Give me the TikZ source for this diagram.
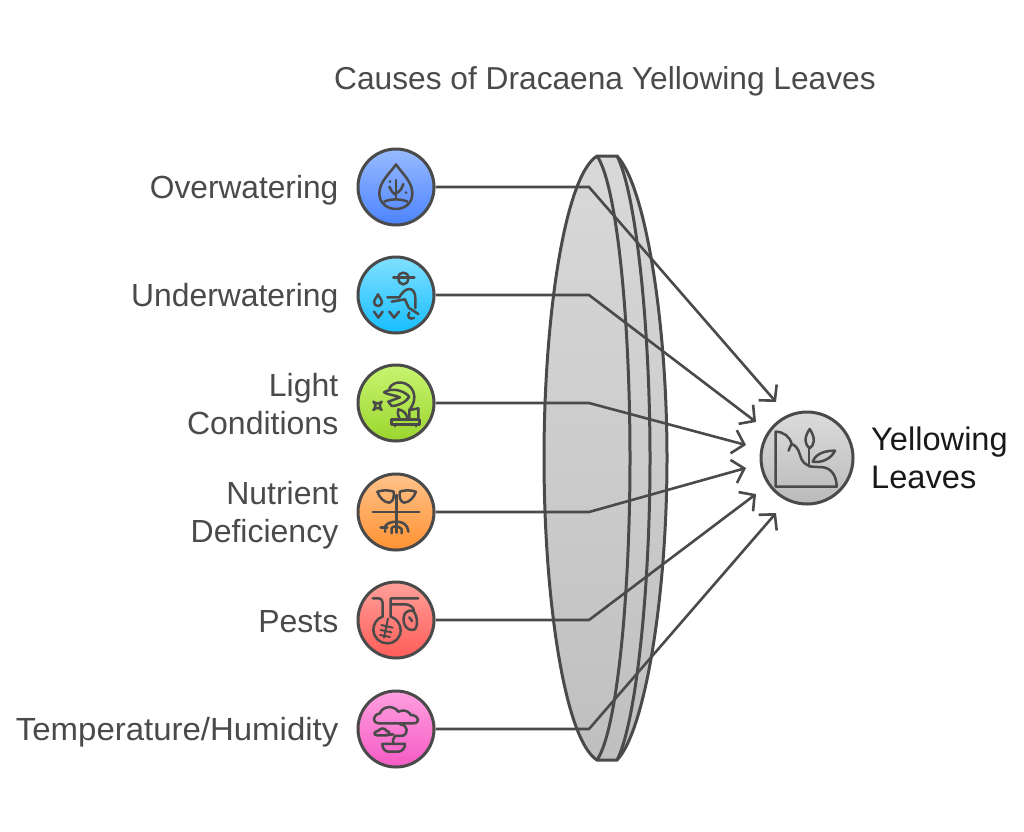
\documentclass[tikz,border=0pt]{standalone}
\usepackage{fontspec}
\setmainfont{Liberation Sans}
\usetikzlibrary{arrows.meta}
\definecolor{ink}{HTML}{4A4A4A}
\tikzset{
  x=1pt,y=-1pt,
  disc/.style={circle,draw=ink,line width=3pt,minimum size=76pt,inner sep=0pt,shading=axis,shading angle=0},
  lab/.style={anchor=east,align=right,inner sep=0pt,text=ink,font=\fontsize{32}{38}\selectfont},
  link/.style={draw=ink,line width=2.6pt,-{Straight Barb[length=11pt,width=24pt,line width=2.6pt]}},
  lensline/.style={draw=ink,line width=3pt},
  icon/.style={draw=ink,line width=2.5pt,line cap=round,line join=round,x=0.3333pt,y=-0.3333pt},
}
\begin{document}
\begin{tikzpicture}
\useasboundingbox (0,0) rectangle (1024,831);
% title
\node[text=ink,font=\fontsize{31.7}{36}\selectfont] (title) at (605,81) {Causes of Dracaena Yellowing Leaves};
% lens
\path[top color=black!15,bottom color=black!25] (597,156) -- (617,156)
  .. controls (645,185) and (667,320) .. (667,458)
  .. controls (667,596) and (645,731) .. (617,760) -- (597,760)
  .. controls (565,740) and (544,600) .. (544,458)
  .. controls (544,316) and (565,176) .. (597,156) -- cycle;
\draw[lensline] (597,156) -- (617,156)
  .. controls (645,185) and (667,320) .. (667,458)
  .. controls (667,596) and (645,731) .. (617,760) -- (597,760)
  .. controls (565,740) and (544,600) .. (544,458)
  .. controls (544,316) and (565,176) .. (597,156) -- cycle;
\draw[lensline] (597,156) .. controls (617,185) and (630,320) .. (630,458)
  .. controls (630,596) and (617,731) .. (597,760);
\draw[lensline] (617,156) .. controls (635,190) and (650,320) .. (650,458)
  .. controls (650,596) and (635,726) .. (617,760);
% discs
\node[disc,top color={rgb,255:red,152;green,186;blue,255},bottom color={rgb,255:red,76;green,132;blue,255}] (n1) at (396,187) {};
\node[disc,top color={rgb,255:red,128;green,224;blue,255},bottom color={rgb,255:red,22;green,190;blue,255}] (n2) at (396,295) {};
\node[disc,top color={rgb,255:red,200;green,244;blue,112},bottom color={rgb,255:red,154;green,214;blue,46}] (n3) at (396,403) {};
\node[disc,top color={rgb,255:red,255;green,194;blue,138},bottom color={rgb,255:red,255;green,146;blue,50}] (n4) at (396,512) {};
\node[disc,top color={rgb,255:red,255;green,160;blue,154},bottom color={rgb,255:red,255;green,92;blue,88}] (n5) at (396,620) {};
\node[disc,top color={rgb,255:red,255;green,160;blue,224},bottom color={rgb,255:red,245;green,90;blue,196}] (n6) at (396,729) {};
\node[disc,minimum size=92pt,top color=black!14,bottom color=black!27] (res) at (807,458) {};
% connectors
\coordinate (b1) at (589,187); \coordinate (t1) at (776,402);
\coordinate (b2) at (589,295); \coordinate (t2) at (756,422);
\coordinate (b3) at (589,403); \coordinate (t3) at (746,445);
\coordinate (b4) at (589,512); \coordinate (t4) at (746,468);
\coordinate (b5) at (589,620); \coordinate (t5) at (756,494);
\coordinate (b6) at (589,729); \coordinate (t6) at (776,513);
\draw[link] (n1.east) -- (b1) -- (t1);
\draw[link] (n2.east) -- (b2) -- (t2);
\draw[link] (n3.east) -- (b3) -- (t3);
\draw[link] (n4.east) -- (b4) -- (t4);
\draw[link] (n5.east) -- (b5) -- (t5);
\draw[link] (n6.east) -- (b6) -- (t6);
% labels
\node[lab] (l1) at (338.5,190) {\scalebox{0.99}[1]{Overwatering}};
\node[lab] (l2) at (338.5,298) {\scalebox{0.995}[1]{Underwatering}};
\node[lab] (l3) at (338.5,404) {Light\\Conditions};
\node[lab] (l4) at (338.5,515) {Nutrient\\Deficiency};
\node[lab] (l5) at (338.5,622) {Pests};
\node[lab] (l6) at (338.5,732) {\scalebox{1.03}[1]{Temperature/Humidity}};
\node[anchor=west,align=left,inner sep=0pt,text=black!90,font=\fontsize{32.6}{38}\selectfont] (l7) at (871,458) {Yellowing\\Leaves};
% icon 1
\begin{scope}[shift={(350,140)},icon]
\draw (138,73) .. controls (120,100) and (88,125) .. (88,160) .. controls (88,190) and (112,207) .. (138,207) .. controls (164,207) and (187,190) .. (187,160) .. controls (187,125) and (156,100) .. (138,73);
\draw (103,185) .. controls (120,176) and (155,176) .. (172,185);
\draw (138,172) -- (138,120);
\draw (138,165) .. controls (128,160) and (122,150) .. (118,140);
\draw (138,160) .. controls (150,155) and (156,145) .. (160,132);
\fill[ink] (120,125) circle (4.5) (168,158) circle (4.5);
\end{scope}
% icon 2
\begin{scope}[shift={(350,140)},icon]
\draw (130,413) -- (193,413);
\draw (145,413) .. controls (145,393) and (175,393) .. (175,413) .. controls (175,440) and (145,440) .. (145,413);
\draw (112,472) -- (148,472) .. controls (155,460) and (165,447) .. (178,447) .. controls (190,447) and (196,460) .. (196,475) -- (196,505);
\draw (125,485) -- (165,478) -- (176,503) -- (205,522);
\draw (84,463) .. controls (78,475) and (72,480) .. (72,486) .. controls (72,502) and (96,502) .. (96,486) .. controls (96,480) and (90,475) .. (84,463);
\draw (72,515) -- (85,533) -- (98,515);
\draw (118,515) -- (132,533) -- (147,515);
\draw (178,518) .. controls (170,530) and (178,540) .. (192,534);
\end{scope}
% icon 3
\begin{scope}[shift={(350,360)},icon]
\draw (70,125) .. controls (78,132) and (88,132) .. (95,125) .. controls (88,132) and (88,142) .. (95,150) .. controls (88,142) and (78,142) .. (70,150) .. controls (78,142) and (78,132) .. (70,125);
\draw (125,178) rectangle (208,194);
\draw (135,194) -- (135,199) (198,194) -- (198,199);
\draw (148,174) .. controls (142,162) and (143,155) .. (145,148) .. controls (158,150) and (170,160) .. (172,174);
\draw (178,174) -- (178,150) -- (205,145) -- (205,178);
\draw (118,85) .. controls (130,60) and (175,60) .. (190,95) .. controls (198,115) and (190,135) .. (178,150);
\draw (102,97) .. controls (125,82) and (160,90) .. (178,110) .. controls (170,125) and (145,138) .. (125,138) -- (115,125) -- (150,112) .. controls (135,105) and (115,105) .. (102,97);
\end{scope}
% icon 4
\begin{scope}[shift={(350,360)},icon]
\draw (82,395) .. controls (100,388) and (125,392) .. (131,395) .. controls (133,410) and (130,425) .. (118,428) .. controls (102,428) and (88,412) .. (82,395);
\draw (198,395) .. controls (180,388) and (155,392) .. (150,395) .. controls (147,410) and (150,425) .. (162,428) .. controls (178,428) and (192,412) .. (198,395);
\draw (68,456) -- (208,456);
\draw (139,405) -- (139,518);
\draw (92,503) -- (112,503);
\draw (105,516) -- (105,500) .. controls (108,490) and (125,485) .. (139,485) .. controls (155,485) and (172,490) .. (175,515);
\draw (125,520) -- (125,505) .. controls (125,497) and (150,497) .. (155,508) -- (155,520);
\end{scope}
% icon 5
\begin{scope}[shift={(350,575)},icon]
\draw (68,70) -- (85,70) .. controls (95,70) and (98,78) .. (98,88) -- (98,125) .. controls (80,130) and (70,148) .. (70,165) .. controls (72,190) and (90,205) .. (112,205) .. controls (135,205) and (152,188) .. (152,165) .. controls (152,148) and (140,130) .. (122,125) -- (122,70) -- (205,70);
\draw (122,88) -- (165,88) .. controls (178,88) and (190,95) .. (192,107);
\draw (168,112) .. controls (155,125) and (158,165) .. (188,165) .. controls (205,165) and (205,125) .. (190,108) .. controls (182,105) and (175,106) .. (168,112);
\draw (178,127) -- (186,138);
\draw[line width=1.9pt] (114,130) -- (102,188) (94,150) -- (128,158) (92,165) -- (124,172) (90,180) -- (120,186);
\end{scope}
% icon 6
\begin{scope}[shift={(350,575)},icon]
\draw (85,445) .. controls (68,445) and (65,420) .. (90,415) .. controls (95,395) and (130,388) .. (145,410) .. controls (170,400) and (180,415) .. (182,420) .. controls (208,420) and (212,445) .. (190,445) -- cycle;
\draw (82,481) .. controls (70,481) and (70,470) .. (85,467) .. controls (92,458) and (105,458) .. (110,468) .. controls (120,468) and (122,481) .. (110,481) -- cycle;
\draw (108,480) -- (130,478);
\draw (150,448) .. controls (175,450) and (175,475) .. (160,482) -- (135,483) .. controls (128,490) and (128,498) .. (130,507);
\draw (97,507) -- (165,507) .. controls (165,520) and (155,530) .. (145,530) -- (115,530) .. controls (105,530) and (97,520) .. (97,507) -- cycle;
\end{scope}
% icon 7
\begin{scope}[shift={(740,380)},icon]
\draw (107,155) -- (107,320) -- (290,320) .. controls (290,290) and (275,265) .. (250,262) -- (215,260) .. controls (195,255) and (185,245) .. (180,225) .. controls (175,205) and (165,195) .. (155,192) .. controls (150,170) and (130,155) .. (107,155) -- cycle;
\draw (155,192) .. controls (150,200) and (148,205) .. (146,212);
\draw (207,260) -- (207,205);
\draw (209,147) .. controls (190,175) and (195,195) .. (209,205) .. controls (223,195) and (228,175) .. (209,147) -- cycle;
\draw (218,245) .. controls (228,220) and (255,212) .. (285,212) .. controls (275,235) and (245,250) .. (218,245) -- cycle;
\end{scope}
\end{tikzpicture}
\end{document}
